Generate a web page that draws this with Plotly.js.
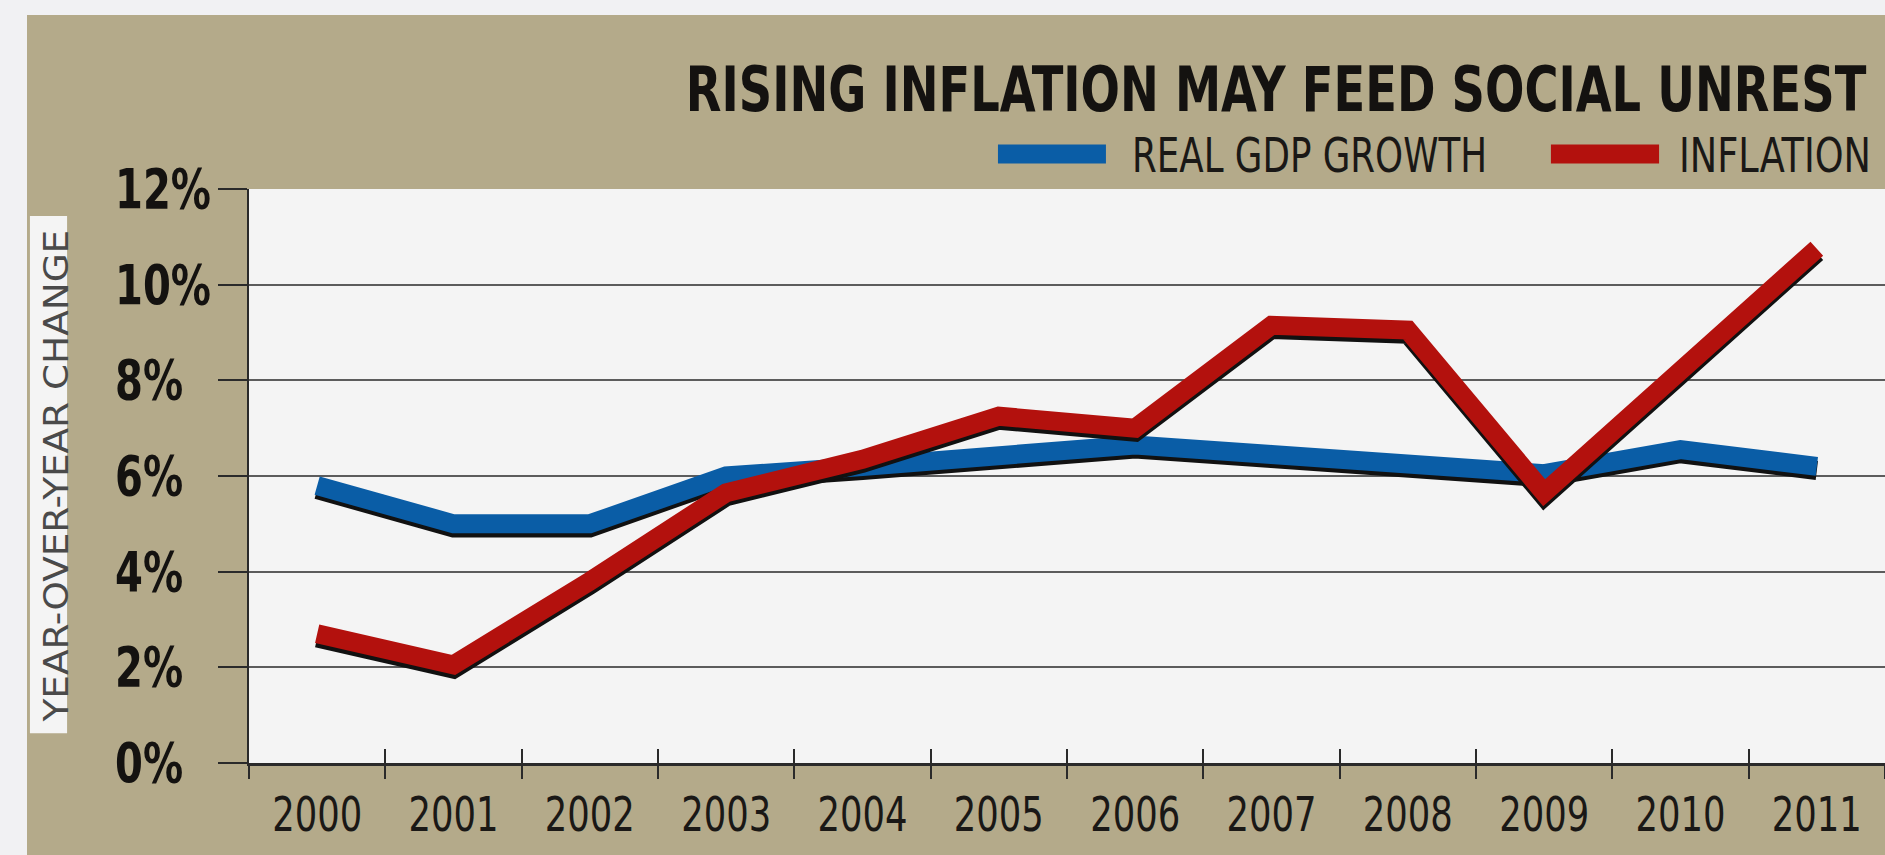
<!DOCTYPE html>
<html>
<head>
<meta charset="utf-8">
<script src="https://cdn.plot.ly/plotly-3.0.1.min.js"></script>
<style>
  html, body { margin: 0; padding: 0; background: #f1f1f3; width: 1885px; height: 855px; overflow: hidden; }
  #chart { position: absolute; left: 27px; top: 15px; width: 1858px; height: 840px; }
</style>
</head>
<body>
<div id="chart"></div>
<script>
// ---- data ----
const years = ["2000","2001","2002","2003","2004","2005","2006","2007","2008","2009","2010","2011"];
const gdpGrowth = [5.8, 5.0, 5.0, 6.0, 6.2, 6.4, 6.65, 6.45, 6.25, 6.05, 6.55, 6.2];
const inflation = [2.7, 2.05, 3.8, 5.65, 6.35, 7.25, 7.0, 9.15, 9.05, 5.65, 8.2, 10.75];
const yTicks = [0, 2, 4, 6, 8, 10, 12];
const yTickLabels = ["0%", "2%", "4%", "6%", "8%", "10%", "12%"];
const seriesNames = ["REAL GDP GROWTH", "INFLATION"];
const seriesColors = ["#0a5da6", "#b3110d"];
const titleText = "RISING INFLATION MAY FEED SOCIAL UNREST";
const yTitleText = "YEAR-OVER-YEAR CHANGE";

const NARROW = "'Liberation Sans Narrow', 'Arial Narrow', 'DejaVu Sans Condensed', sans-serif";
const LW = 19;
const SHADOW = 0.085; // shadow offset in axis units (~4px)
const xRange = [-0.5, 11.5];

const traces = [
  { x: years, y: gdpGrowth, xaxis: 'x', yaxis: 'y', mode: 'lines', line: {color: '#111', width: LW}, hoverinfo: 'skip', showlegend: false },
  { x: years, y: gdpGrowth, xaxis: 'x', yaxis: 'y2', mode: 'lines', name: seriesNames[0], line: {color: seriesColors[0], width: LW}, showlegend: false },
  { x: years, y: inflation, xaxis: 'x2', yaxis: 'y3', mode: 'lines', line: {color: '#111', width: LW}, hoverinfo: 'skip', showlegend: false },
  { x: years, y: inflation, xaxis: 'x2', yaxis: 'y4', mode: 'lines', name: seriesNames[1], line: {color: seriesColors[1], width: LW}, showlegend: false }
];

// text fitting: [annotation, target width px, anchor, allow stretch]
const annotations = [];
const fitSpecs = [];
function addAnn(a, targetW, anchor, stretch) {
  fitSpecs.push({index: annotations.length, targetW: targetW, anchor: anchor, stretch: !!stretch});
  annotations.push(a);
}
// title
addAnn({ text: '<b>' + titleText + '</b>', xref: 'paper', yref: 'paper', x: 0.9902, y: 1.1725,
  xanchor: 'right', yanchor: 'middle', showarrow: false,
  font: {family: NARROW, size: 63, color: '#141210'} }, 1181, 'end');
// legend texts
addAnn({ text: seriesNames[0], xref: 'paper', yref: 'paper', x: 0.5385, y: 1.059,
  xanchor: 'left', yanchor: 'middle', showarrow: false, font: {family: NARROW, size: 48, color: '#1a1816'} }, 355, 'start');
addAnn({ text: seriesNames[1], xref: 'paper', yref: 'paper', x: 0.8729, y: 1.059,
  xanchor: 'left', yanchor: 'middle', showarrow: false, font: {family: NARROW, size: 48, color: '#1a1816'} }, 192, 'start');
// y axis title
addAnn({ text: yTitleText, xref: 'paper', yref: 'paper', x: -0.118, y: 0.5,
  xanchor: 'center', yanchor: 'middle', textangle: -90, showarrow: false,
  font: {family: NARROW, size: 34, color: '#4a4a4a'} }, 493, 'middle', true);
// y tick labels (left-aligned, bold)
const yTickAnnStart = annotations.length;
yTicks.forEach((v, i) => {
  annotations.push({ text: '<b>' + yTickLabels[i] + '</b>', xref: 'paper', yref: 'y2', x: -0.0832, y: v,
    xanchor: 'left', yanchor: 'middle', showarrow: false, font: {family: NARROW, size: 55, color: '#141210'} });
});

const shapes = [
  // y title box
  { type: 'rect', xref: 'paper', yref: 'paper', x0: -0.1339, x1: -0.1112, y0: 0.052, y1: 0.953,
    fillcolor: '#f4f4f4', line: {width: 0}, layer: 'below' },
  // legend swatches
  { type: 'line', xref: 'paper', yref: 'paper', x0: 0.4578, x1: 0.5238, y0: 1.061, y1: 1.061,
    line: {color: seriesColors[0], width: 19} },
  { type: 'line', xref: 'paper', yref: 'paper', x0: 0.7958, x1: 0.8619, y0: 1.061, y1: 1.061,
    line: {color: seriesColors[1], width: 19} }
];

const layout = {
  width: 1858, height: 840,
  margin: {l: 222, r: 0, t: 174, b: 92, pad: 0},
  paper_bgcolor: '#b4aa8a',
  plot_bgcolor: '#f4f4f4',
  showlegend: false,
  xaxis: {
    type: 'category', categoryorder: 'array', categoryarray: years, range: xRange,
    tickson: 'boundaries', ticks: 'outside', ticklen: 13, tickwidth: 2, tickcolor: '#2a2a2a',
    ticklabelstandoff: 7,
    showline: true, linecolor: '#2a2a2a', linewidth: 3, showgrid: false, zeroline: false,
    tickfont: {family: NARROW, size: 48, color: '#1a1816'}, fixedrange: true
  },
  xaxis2: {
    type: 'category', categoryorder: 'array', categoryarray: years, range: xRange, overlaying: 'x',
    tickson: 'boundaries', ticks: 'inside', ticklen: 14, tickwidth: 2, tickcolor: '#2a2a2a',
    showticklabels: false, showline: false, showgrid: false, zeroline: false, fixedrange: true
  },
  yaxis: { range: [SHADOW, 12 + SHADOW], showgrid: false, zeroline: false, showticklabels: false, ticks: '', showline: false, fixedrange: true },
  yaxis2: {
    range: [0, 12], overlaying: 'y', tickvals: yTicks, showticklabels: false,
    ticks: 'outside', ticklen: 29, tickwidth: 2, tickcolor: '#2a2a2a',
    showline: true, linecolor: '#2a2a2a', linewidth: 2,
    showgrid: true, gridcolor: '#5c5c5c', gridwidth: 2, zeroline: false, fixedrange: true
  },
  yaxis3: { range: [SHADOW, 12 + SHADOW], overlaying: 'y', showgrid: false, zeroline: false, showticklabels: false, ticks: '', showline: false, fixedrange: true },
  yaxis4: { range: [0, 12], overlaying: 'y', showgrid: false, zeroline: false, showticklabels: false, ticks: '', showline: false, fixedrange: true },
  annotations: annotations,
  shapes: shapes
};

// horizontally condense (or widen) a text element to mimic the original face
function condense(el, s, anchor) {
  const bb = el.getBBox();
  if (!bb.width) return;
  const px = anchor === 'end' ? bb.x + bb.width : anchor === 'start' ? bb.x : bb.x + bb.width / 2;
  const prev = el.getAttribute('transform') || '';
  el.setAttribute('transform', (prev + ' translate(' + px + ',0) scale(' + s + ',1) translate(' + (-px) + ',0)').trim());
}

Plotly.newPlot('chart', traces, layout, {staticPlot: true, displayModeBar: false}).then(function (gd) {
  const annEls = gd.querySelectorAll('g.annotation');
  const textOf = (i) => { const g = annEls[i]; return g ? g.querySelector('text') : null; };
  fitSpecs.forEach(sp => {
    const t = textOf(sp.index);
    if (!t) return;
    const w = t.getBBox().width;
    let s = sp.targetW / w;
    if (!sp.stretch) s = Math.min(1, s);
    else s = Math.min(1.3, s);
    condense(t, s, sp.anchor);
  });
  // y tick labels: one common factor from the widest label
  const topLbl = textOf(yTickAnnStart + yTicks.length - 1);
  if (topLbl) {
    const s = Math.min(1, 96 / topLbl.getBBox().width);
    for (let i = 0; i < yTicks.length; i++) { const t = textOf(yTickAnnStart + i); if (t) condense(t, s, 'start'); }
  }
  // x tick labels: common factor
  const xt = gd.querySelectorAll('.xtick text');
  if (xt.length) {
    const s = Math.min(1, 90 / xt[0].getBBox().width);
    xt.forEach(t => condense(t, s, 'middle'));
  }
});
</script>
</body>
</html>
